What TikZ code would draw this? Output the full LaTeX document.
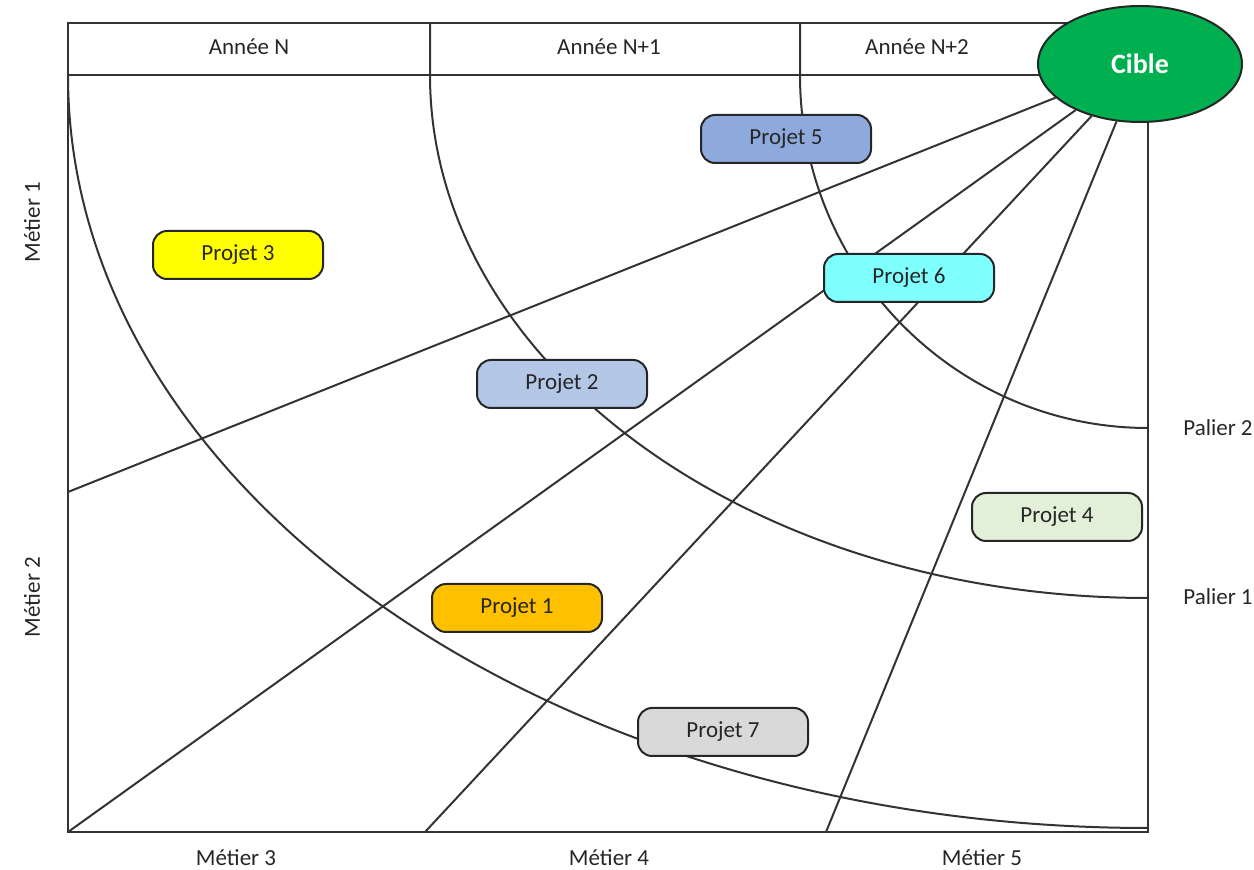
\documentclass[tikz,border=0pt]{standalone}
\usepackage{fontspec}
\setmainfont{Carlito}
\usetikzlibrary{shapes.geometric,backgrounds,positioning}

\definecolor{ciblevert}{HTML}{00B050}
\definecolor{projun}{HTML}{FFC000}
\definecolor{projdeux}{HTML}{B4C7E7}
\definecolor{projtrois}{HTML}{FFFF00}
\definecolor{projquatre}{HTML}{E2F0D9}
\definecolor{projcinq}{HTML}{8EA9DB}
\definecolor{projsix}{HTML}{80FFFF}
\definecolor{projsept}{HTML}{D9D9D9}

\begin{document}
\begin{tikzpicture}[x=0.5pt,y=-0.5pt,
    projet/.style={draw=black!85,line width=1pt,rounded corners=7pt,minimum width=85pt,minimum height=24pt,inner sep=0pt,font=\fontsize{11.5}{13}\selectfont,text=black!85},
    legende/.style={font=\fontsize{11.5}{13}\selectfont,text=black!85},
    trait/.style={line width=1pt,draw=black!80}]

\useasboundingbox (0,0) rectangle (1254,870);

\def\arccx{1148}
\def\arccy{75}

\node (cible) [ellipse,draw=black!85,line width=1pt,fill=ciblevert,minimum width=102pt,minimum height=58pt,inner sep=0pt,text=white,font=\bfseries\fontsize{14}{16}\selectfont] at (1140,64) {Cible};

\node (p1) [projet,fill=projun] at (517,608) {Projet 1};
\node (p2) [projet,fill=projdeux] at (562,384) {Projet 2};
\node (p3) [projet,fill=projtrois] at (238,255) {Projet 3};
\node (p4) [projet,fill=projquatre] at (1057,517) {Projet 4};
\node (p5) [projet,fill=projcinq] at (786,139) {Projet 5};
\node (p6) [projet,fill=projsix] at (909,278) {Projet 6};
\node (p7) [projet,fill=projsept] at (723,732) {Projet 7};

\node (an0) [legende] at (249,47) {Année N};
\node (an1) [legende] at (609,47) {Année N+1};
\node (an2) [legende] at (917,47) {Année N+2};

\node (m1) [legende,rotate=90] at (32,222) {Métier 1};
\node (m2) [legende,rotate=90] at (32,597) {Métier 2};
\node (m3) [legende] at (236,858) {Métier 3};
\node (m4) [legende] at (609,858) {Métier 4};
\node (m5) [legende] at (982,858) {Métier 5};

\node (pal2) [legende] at (1218,428) {Palier 2};
\node (pal1) [legende] at (1218,597) {Palier 1};

% points du cadre ou finissent les rayons
\coordinate (r1) at (68,492);
\coordinate (r2) at (68,832);
\coordinate (r3) at (425,832);
\coordinate (r4) at (826,832);

\begin{scope}[on background layer]
    \draw [trait] (68,23) rectangle (1148,832);
    \draw [trait] (68,\arccy) -- (\arccx,\arccy);
    \draw [trait] (68,\arccy) arc[start angle=180,end angle=90,x radius=1080,y radius=753];
    \draw [trait] (430,23) -- (430,\arccy) arc[start angle=180,end angle=90,x radius=718,y radius=523];
    \draw [trait] (800,23) -- (800,\arccy) arc[start angle=180,end angle=90,x radius=348,y radius=353];
    \foreach \r in {r1,r2,r3,r4}
        \draw [trait] (cible) -- (\r);
\end{scope}

\end{tikzpicture}
\end{document}
